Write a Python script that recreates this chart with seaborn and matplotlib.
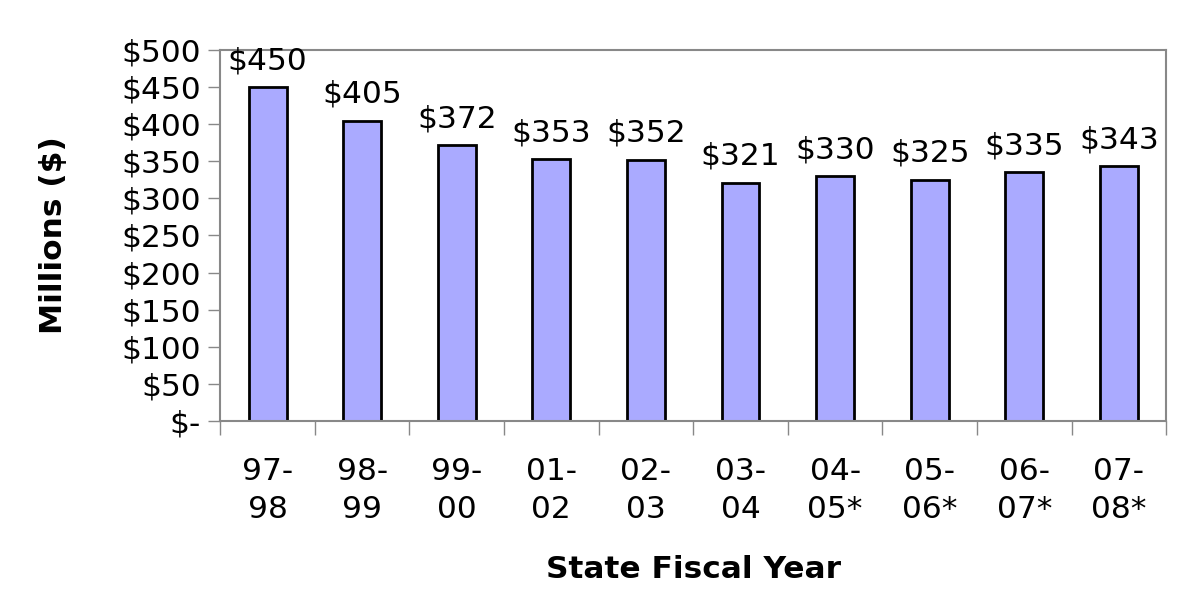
import matplotlib
matplotlib.use("Agg")
import matplotlib.pyplot as plt
import seaborn as sns
import pandas as pd
from matplotlib.ticker import FuncFormatter, FixedLocator

# data
years = ["97-\n98", "98-\n99", "99-\n00", "01-\n02", "02-\n03",
         "03-\n04", "04-\n05*", "05-\n06*", "06-\n07*", "07-\n08*"]
spend = [450, 405, 372, 353, 352, 321, 330, 325, 335, 343]
y_ticks = [0, 50, 100, 150, 200, 250, 300, 350, 400, 450, 500]

df = pd.DataFrame({"year": years, "spend": spend})

sns.set_theme(style="white")
plt.rcParams["font.family"] = ["DejaVu Sans"]
plt.rcParams["text.color"] = "black"
plt.rcParams["axes.labelcolor"] = "black"
plt.rcParams["xtick.labelcolor"] = "black"
plt.rcParams["ytick.labelcolor"] = "black"

FS = 22.5

fig = plt.figure(figsize=(11.78, 6.03), dpi=100)
ax = fig.add_axes([0.187, 0.302, 0.803, 0.615])

sns.barplot(data=df, x="year", y="spend", color="#aaaaff", width=0.4,
            edgecolor="black", linewidth=2, saturation=1, ax=ax)

ax.set_ylim(0, 500)
ax.set_xlim(-0.5, len(years) - 0.5)
ax.yaxis.set_major_locator(FixedLocator(y_ticks))
ax.yaxis.set_major_formatter(FuncFormatter(lambda v, p: "$-" if v == 0 else f"${v:.0f}"))

for i, v in enumerate(spend):
    ax.text(i, v + 16, f"${v}", ha="center", va="bottom", fontsize=FS, color="black")

# category separators on x axis
ax.set_xticks(range(len(years)))
ax.set_xticklabels(years, fontsize=FS, linespacing=1.4)
ax.set_xticks([i + 0.5 for i in range(-1, len(years))], minor=True)
ax.tick_params(axis="x", which="major", length=0, pad=26)
ax.tick_params(axis="x", which="minor", length=10, color="#888888", width=1, direction="out")
ax.tick_params(axis="y", length=9, color="#888888", width=1, direction="out", labelsize=FS, pad=5)
ax.tick_params(left=True, bottom=True, which="both")

for s in ax.spines.values():
    s.set_visible(True)
    s.set_color("#888888")
    s.set_linewidth(1.5)

ax.set_ylabel("Millions ($)", fontsize=FS, fontweight="bold", labelpad=38)
ax.set_xlabel("State Fiscal Year", fontsize=FS, fontweight="bold", labelpad=22)

fig.savefig("out.png", dpi=100)
